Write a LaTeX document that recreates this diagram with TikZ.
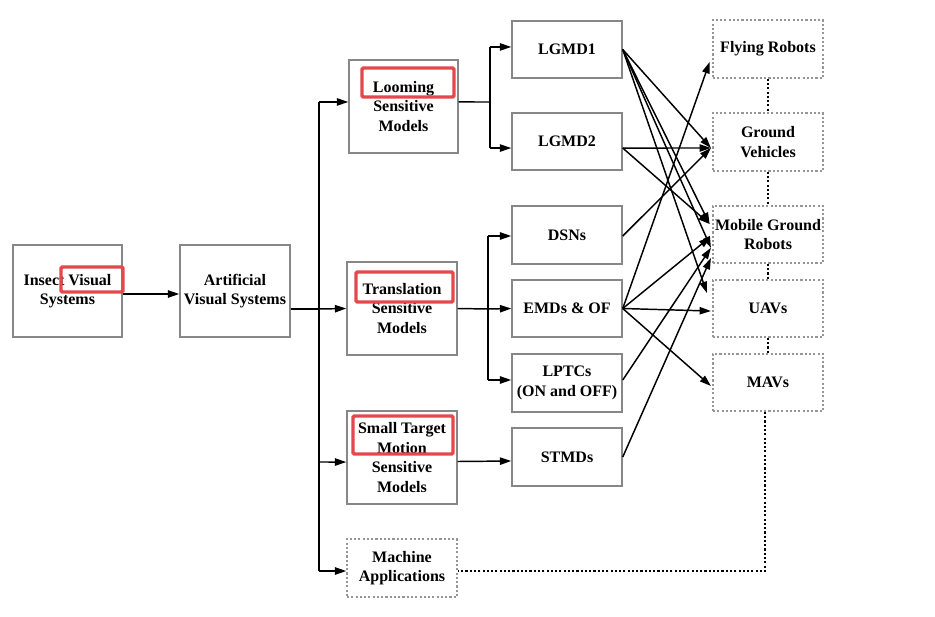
\documentclass[tikz,border=0pt]{standalone}
\usepackage{fontspec}
\setmainfont{Liberation Serif}
\usetikzlibrary{arrows.meta}
\definecolor{boxgray}{RGB}{135,135,135}
\definecolor{dotgray}{RGB}{150,150,150}
\definecolor{hlred}{RGB}{228,72,76}
\begin{document}
\begin{tikzpicture}[x=0.75pt,y=-0.75pt,
  box/.style={draw=boxgray,line width=1.1pt,align=center,inner sep=0pt,
    minimum width=82.5pt,font=\bfseries\fontsize{12}{14.6}\selectfont},
  dbox/.style={box,draw=dotgray,dash pattern=on 1.6pt off 1.6pt},
  arr/.style={line width=1.1pt,-{Triangle[length=8.5pt,width=5.5pt]}},
  ln/.style={line width=1.1pt},
  dln/.style={line width=1.1pt,dash pattern=on 1.6pt off 1.6pt},
  hl/.style={draw=hlred,line width=2.6pt,rounded corners=1pt}]
\useasboundingbox (0,0) rectangle (935,617);

% left
\node[box,minimum width=81.75pt,minimum height=69pt] (ivs) at (67.5,291) {Insect Visual\\Systems};
\node[box,minimum height=69pt] (avs) at (235,291) {Artificial\\Visual Systems};
% models
\node[box,minimum width=81.75pt,minimum height=69.75pt] (lsm) at (403.5,106.5) {Looming\\Sensitive\\Models};
\node[box,minimum height=69.75pt] (tsm) at (402,308.5) {Translation\\Sensitive\\Models};
\node[box,minimum height=69.75pt] (stm) at (402,457.5) {Small Target\\Motion\\Sensitive\\Models};
\node[dbox,minimum height=43.5pt] (mac) at (402,568) {Machine\\Applications};
% neurons
\node[box,minimum height=43pt] (lg1) at (567,49.5) {LGMD1};
\node[box,minimum height=43pt] (lg2) at (567,141.5) {LGMD2};
\node[box,minimum height=43.5pt] (dsn) at (567,235) {DSNs};
\node[box,minimum height=43pt] (emd) at (567,308.5) {EMDs \& OF};
\node[box,minimum height=43.5pt] (lpt) at (567,383) {LPTCs\\(ON and OFF)};
\node[box,minimum height=43.5pt] (stmd) at (567,457) {STMDs};
% applications
\node[dbox,minimum height=43.5pt] (fr) at (768,49) {Flying Robots};
\node[dbox,minimum height=43.5pt] (gv) at (768,142) {Ground\\Vehicles};
\node[dbox,minimum height=43pt] (mgr) at (768,234.5) {Mobile Ground\\Robots};
\node[dbox,minimum height=43pt] (uav) at (768,308.5) {UAVs};
\node[dbox,minimum height=43pt] (mav) at (768,382.5) {MAVs};

% highlights
\draw[hl] (61,267) rectangle (123,292);
\draw[hl] (362,68) rectangle (454,97);
\draw[hl] (356,272) rectangle (453,302);
\draw[hl] (353,416) rectangle (453,454);

% left connectors
\draw[arr] ([yshift=-2.25pt]ivs.east) -- ([yshift=-2.25pt]avs.west);
\coordinate (j1) at (319,309);
\draw[ln] ([yshift=-13.5pt]avs.east) -- (j1);
\coordinate (l1) at ([yshift=3.4pt]lsm.west);
\coordinate (l4) at ([yshift=-2.25pt]mac.west);
\draw[ln] (j1 |- l1) -- (j1 |- l4);
\draw[arr] (j1 |- l1) -- (l1);
\draw[arr] (j1) -- (tsm.west);
\draw[arr] (j1 |- stm.west) ++(0,4.5) -- ([yshift=-3.4pt]stm.west);
\draw[arr] (j1 |- l4) -- (l4);

% looming branch
\coordinate (lo) at ([yshift=3.4pt]lsm.east);
\coordinate (j2) at (490,102);
\coordinate (a1) at ([yshift=1.9pt]lg1.west);
\coordinate (a2) at ([yshift=-4.9pt]lg2.west);
\draw[ln] (lo) -- (j2);
\draw[ln] (j2 |- a1) -- (j2 |- a2);
\draw[arr] (j2 |- a1) -- (a1);
\draw[arr] (j2 |- a2) -- (a2);

% translation branch
\coordinate (j3) at (488,309);
\coordinate (b1) at ([yshift=-0.75pt]dsn.west);
\coordinate (b3) at ([yshift=2.25pt]lpt.west);
\draw[ln] (tsm.east) -- (j3);
\draw[ln] (j3 |- b1) -- (j3 |- b3);
\draw[arr] (j3 |- b1) -- (b1);
\draw[arr] (j3) -- (emd.west);
\draw[arr] (j3 |- b3) -- (b3);

% small target branch
\draw[arr] ([yshift=-3pt]stm.east) -- ([yshift=-3pt]stmd.west);

% sources
\coordinate (s1) at (lg1.east);
\coordinate (s2) at ([yshift=-4.9pt]lg2.east);
\coordinate (s3) at ([yshift=-0.75pt]dsn.east);
\coordinate (s4) at (emd.east);
\coordinate (s5) at ([yshift=2.25pt]lpt.east);
\coordinate (s6) at (stmd.east);
% targets
\coordinate (tfr) at ([xshift=-2pt,yshift=-9.75pt]fr.west);
\coordinate (tgv) at ([xshift=-1pt,yshift=-4.5pt]gv.west);
\coordinate (tm1) at ([xshift=-2pt,yshift=7.9pt]mgr.west);
\coordinate (tm2) at ([xshift=-1.5pt,yshift=-1.9pt]mgr.west);
\coordinate (tm3) at ([xshift=-1pt,yshift=-10pt]mgr.west);
\coordinate (tm4) at ([xshift=-1pt,yshift=-17.6pt]mgr.west);
\coordinate (tu1) at ([xshift=-4pt,yshift=11.6pt]uav.west);
\coordinate (tu2) at ([xshift=-1pt,yshift=-1.9pt]uav.west);
\coordinate (tma) at ([xshift=-1pt,yshift=-2.6pt]mav.west);

\draw[arr] (s1) -- (tgv);
\draw[arr] (s1) -- (tm1);
\draw[arr] (s1) -- (tm3);
\draw[arr] (s1) -- (tu1);
\draw[arr] (s2) -- (tgv);
\draw[arr] (s2) -- (tm1);
\draw[arr] (s3) -- (tgv);
\draw[arr] (s4) -- (tfr);
\draw[arr] (s4) -- (tm2);
\draw[arr] (s4) -- (tu2);
\draw[arr] (s4) -- (tma);
\draw[arr] (s5) -- (tm3);
\draw[arr] (s6) -- (tm4);

% dotted application chain
\draw[dln] (fr.south) -- (gv.north);
\draw[dln] (gv.south) -- (mgr.north);
\draw[dln] (mgr.south) -- (uav.north);
\draw[dln] (uav.south) -- (mav.north);
\draw[dln] ([xshift=-2.25pt]mav.south) |- ([yshift=-2.25pt]mac.east);
\end{tikzpicture}
\end{document}
